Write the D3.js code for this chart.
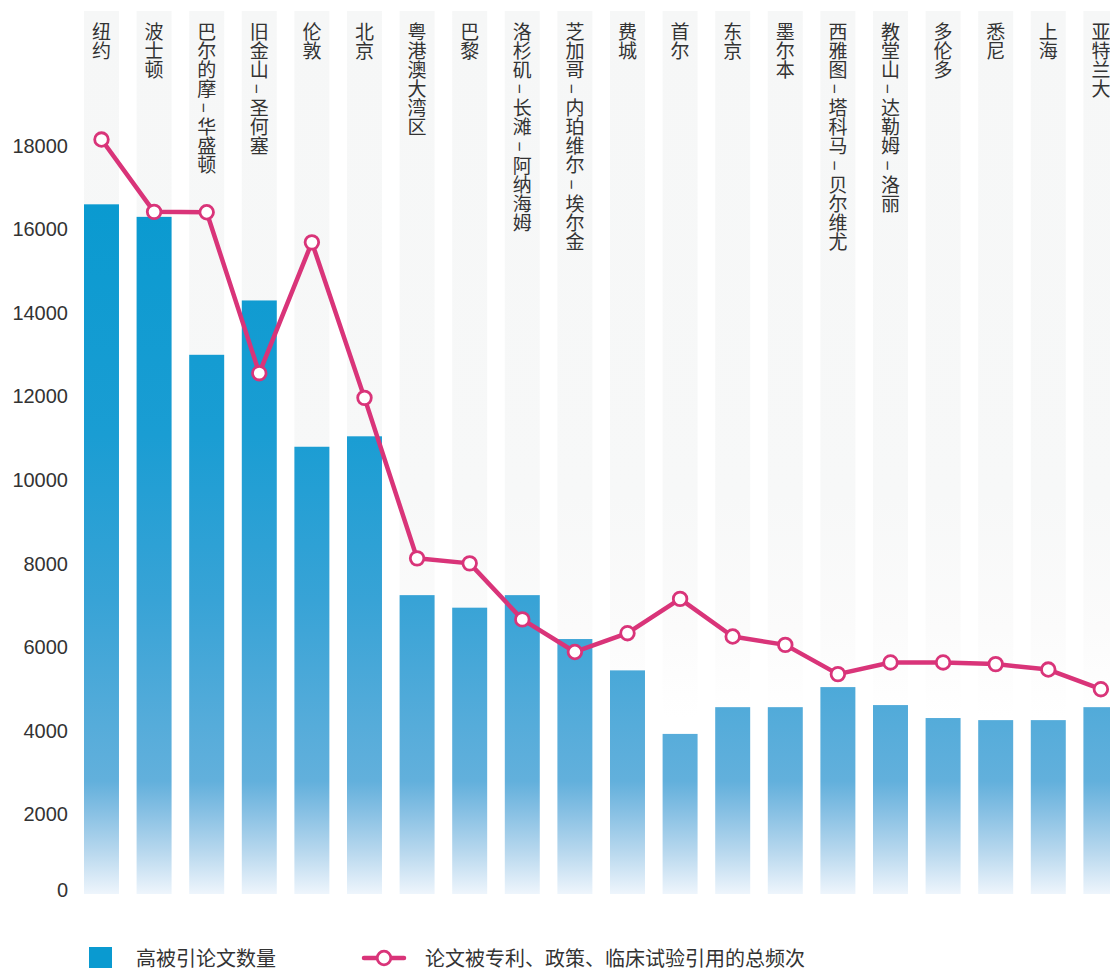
<!DOCTYPE html>
<html>
<head>
<meta charset="utf-8">
<script src="https://cdn.jsdelivr.net/npm/d3@7/dist/d3.min.js"></script>
<style>
  html, body { margin: 0; padding: 0; background: #fff; }
  svg { display: block; }
</style>
</head>
<body>
<svg id="chart" width="1110" height="969"></svg>
<script>
// Cities (metropolitan areas)
const cities = ["纽约", "波士顿", "巴尔的摩–华盛顿", "旧金山–圣何塞", "伦敦", "北京",
  "粤港澳大湾区", "巴黎", "洛杉矶–长滩–阿纳海姆", "芝加哥–内珀维尔–埃尔金", "费城", "首尔",
  "东京", "墨尔本", "西雅图–塔科马–贝尔维尤", "教堂山–达勒姆–洛丽", "多伦多", "悉尼", "上海", "亚特兰大"];

// Number of highly cited papers
const highlyCited = [16500, 16200, 12900, 14200, 10700, 10950, 7150, 6850, 7150, 6100,
  5350, 3830, 4470, 4470, 4950, 4520, 4210, 4160, 4160, 4470];

// Total citations by patents, policy documents and clinical trials
const totalCitations = [18050, 16320, 16310, 12460, 15590, 11870, 8030, 7910, 6570, 5790,
  6240, 7060, 6160, 5960, 5260, 5540, 5540, 5500, 5370, 4900];

const yTicks = [0, 2000, 4000, 6000, 8000, 10000, 12000, 14000, 16000, 18000];

const legendLabels = ["高被引论文数量", "论文被专利、政策、临床试验引用的总频次"];

const svg = d3.select("#chart");
const defs = svg.append("defs");

const plotTop = 11, plotBottom = 894;
const y = d3.scaleLinear().domain([0, 21125]).range([plotBottom, plotTop]);

const step = 52.6, inner = 0.335;
const x = d3.scaleBand()
  .domain(cities)
  .range([84, 84 + step * (cities.length - inner)])
  .paddingInner(inner)
  .paddingOuter(0);

// Bar gradient in plot space so shorter bars start lighter
const barGrad = defs.append("linearGradient")
  .attr("id", "barGrad")
  .attr("gradientUnits", "userSpaceOnUse")
  .attr("x1", 0).attr("x2", 0)
  .attr("y1", y(0)).attr("y2", y(16500));
[[0, "#eef5fc"], [1000, "#b8d8ee"], [2000, "#85bfe3"], [2700, "#62b0dc"],
 [4000, "#56acda"], [7000, "#38a3d6"], [11000, "#1a9dd3"], [16500, "#0a9ad0"]]
  .forEach(([v, c]) => barGrad.append("stop")
    .attr("offset", v / 16500).attr("stop-color", c));

// Background column gradient, fading out toward the lower part of the plot
const bgGrad = defs.append("linearGradient")
  .attr("id", "bgGrad")
  .attr("gradientUnits", "userSpaceOnUse")
  .attr("x1", 0).attr("x2", 0)
  .attr("y1", plotTop).attr("y2", plotBottom);
[[0, "#f6f7f7"], [0.55, "#f7f8f8"], [0.7, "#fbfbfb"], [0.8, "#ffffff"], [1, "#ffffff"]]
  .forEach(([o, c]) => bgGrad.append("stop").attr("offset", o).attr("stop-color", c));

// Background columns
svg.append("g").selectAll("rect")
  .data(cities)
  .join("rect")
  .attr("x", d => x(d))
  .attr("width", x.bandwidth())
  .attr("y", plotTop)
  .attr("height", plotBottom - plotTop)
  .attr("fill", "url(#bgGrad)");

// Category labels, written vertically; dashes get a full character slot
const fs = 19;
const labels = svg.append("g").selectAll("text")
  .data(cities)
  .join("text")
  .attr("x", d => x(d) + x.bandwidth() / 2)
  .attr("y", 22)
  .style("writing-mode", "vertical-rl")
  .attr("font-family", "'Noto Sans CJK SC', sans-serif")
  .attr("font-size", fs)
  .attr("fill", "#333");
labels.each(function (d) {
  const t = d3.select(this);
  d.split("–").forEach((part, i) => {
    if (i > 0) {
      t.append("tspan").attr("dy", fs * 0.25).style("letter-spacing", (fs * 0.25) + "px").text("–");
    }
    t.append("tspan").text(part);
  });
});

// Bars
svg.append("g").selectAll("rect")
  .data(cities)
  .join("rect")
  .attr("x", d => x(d))
  .attr("width", x.bandwidth())
  .attr("y", (d, i) => y(highlyCited[i]))
  .attr("height", (d, i) => y(0) - y(highlyCited[i]))
  .attr("fill", "url(#barGrad)");

// Y axis labels
const yAxis = d3.axisLeft(y).tickValues(yTicks).tickSize(0).tickPadding(0)
  .tickFormat(d => String(d));
const yG = svg.append("g").attr("transform", "translate(68,4)").call(yAxis);
yG.select(".domain").remove();
yG.selectAll("text")
  .attr("font-family", "'Liberation Sans', Arial, sans-serif")
  .attr("font-size", 20)
  .attr("fill", "#333");
yG.selectAll(".tick").filter(d => d === 0)
  .select("text").attr("y", -8);

// Line with circle markers
const cx = d => x(d) + x.bandwidth() / 2;
const lineColor = "#d93479";
const line = d3.line()
  .x((d, i) => cx(cities[i]))
  .y(d => y(d));
svg.append("path")
  .datum(totalCitations)
  .attr("d", line)
  .attr("fill", "none")
  .attr("stroke", lineColor)
  .attr("stroke-width", 4.5)
  .attr("stroke-linejoin", "round");

svg.append("g").selectAll("circle")
  .data(totalCitations)
  .join("circle")
  .attr("cx", (d, i) => cx(cities[i]))
  .attr("cy", d => y(d))
  .attr("r", 6.8)
  .attr("fill", "#fff")
  .attr("stroke", lineColor)
  .attr("stroke-width", 2.8);

// Legend
const legend = svg.append("g")
  .attr("font-family", "'Noto Sans CJK SC', sans-serif")
  .attr("font-size", 20)
  .attr("fill", "#333");
legend.append("rect")
  .attr("x", 89).attr("y", 947).attr("width", 23).attr("height", 21)
  .attr("fill", "#0a9ad0");
legend.append("text")
  .attr("x", 136).attr("y", 957).attr("dominant-baseline", "central")
  .text(legendLabels[0]);
legend.append("line")
  .attr("x1", 364).attr("x2", 404).attr("y1", 958).attr("y2", 958)
  .attr("stroke", lineColor).attr("stroke-width", 4.5).attr("stroke-linecap", "round");
legend.append("circle")
  .attr("cx", 384).attr("cy", 958).attr("r", 6.8)
  .attr("fill", "#fff").attr("stroke", lineColor).attr("stroke-width", 2.8);
legend.append("text")
  .attr("x", 425).attr("y", 957).attr("dominant-baseline", "central")
  .text(legendLabels[1]);
</script>
</body>
</html>
